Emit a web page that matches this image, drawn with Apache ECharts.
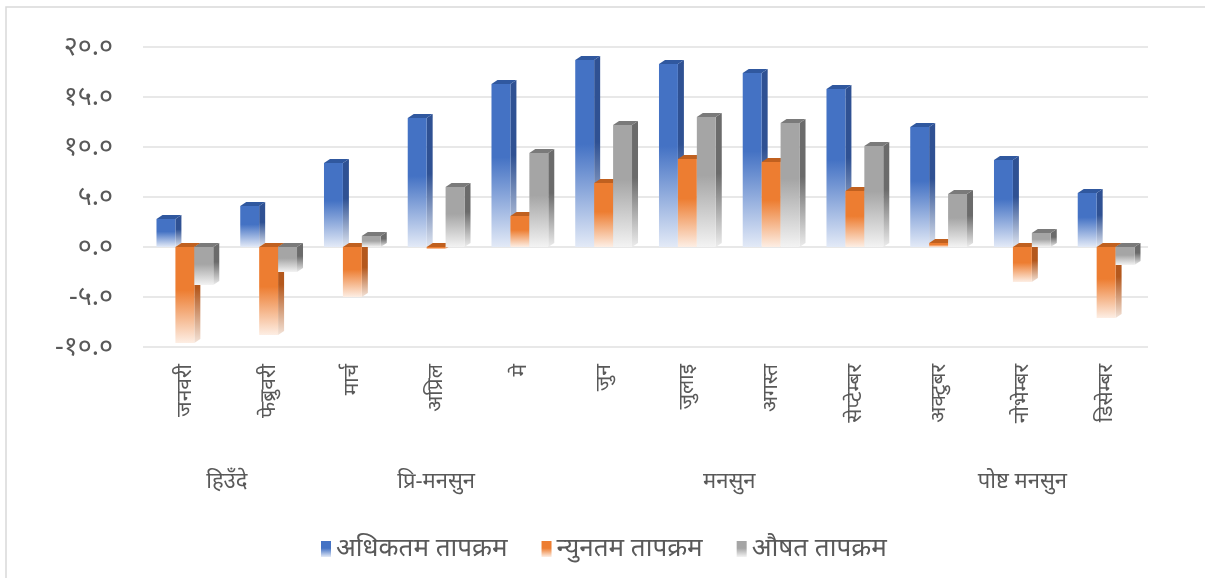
<!DOCTYPE html>
<html>
<head>
<meta charset="utf-8">
<script src="https://cdn.jsdelivr.net/npm/echarts@6/dist/echarts.min.js"></script>
<style>
  html, body { margin: 0; padding: 0; background: #fff; }
  #chart { width: 1205px; height: 578px; }
</style>
</head>
<body>
<div id="chart"></div>
<script>
const months = ["जनवरी", "फेब्रुवरी", "मार्च", "अप्रिल", "मे", "जुन", "जुलाइ", "अगस्त", "सेप्टेम्बर", "अक्टुबर", "नोभेम्बर", "डिसेम्बर"];
// season label sits at the middle of its months (half-month slots, 0..24)
const seasons = ["हिउँदे", "प्रि-मनसुन", "मनसुन", "पोष्ट मनसुन"];
const seasonSlots = [2, 7, 14, 21];
const seriesNames = ["अधिकतम तापक्रम", "न्युनतम तापक्रम", "औषत तापक्रम"];
const maxTemp = [2.8, 4.1, 8.4, 12.9, 16.3, 18.7, 18.3, 17.4, 15.8, 12.0, 8.7, 5.4];
const minTemp = [-9.6, -8.8, -5.0, -0.2, 3.1, 6.4, 8.8, 8.5, 5.6, 0.4, -3.5, -7.1];
const avgTemp = [-3.8, -2.5, 1.1, 6.0, 9.4, 12.2, 13.0, 12.4, 10.1, 5.3, 1.4, -1.8];

const faces = [
  { front: "#4472C4", pale: "#e3eaf7", side: "#2F5193", sidePale: "#dfe5f0", top: "#30589f" },
  { front: "#ED7D31", pale: "#fdeee4", side: "#B4581D", sidePale: "#f3e3d8", top: "#c0601f" },
  { front: "#A5A5A5", pale: "#f3f3f3", side: "#6B6B6B", sidePale: "#ececec", top: "#7a7a7a" }
];

const devDigits = "०१२३४५६७८९";
function toDev(s) {
  return String(s).replace(/[0-9]/g, d => devDigits[+d]);
}

function grad(c1, c2) {
  return {
    type: "linear", x: 0, y: 0, x2: 0, y2: 1,
    colorStops: [
      { offset: 0, color: c1 },
      { offset: 0.45, color: c1 },
      { offset: 1, color: c2 }
    ]
  };
}

function makeRender(k) {
  const f = faces[k];
  return function (params, api) {
    const idx = api.value(0);
    const p = api.coord([idx, api.value(1)]);
    const z = api.coord([idx, 0]);
    const band = api.size([1, 0])[0];
    const w = band * 0.226;
    const x = p[0] + (k - 1) * w - w / 2;
    const yTop = Math.min(p[1], z[1]);
    const yBot = Math.max(Math.max(p[1], z[1]), yTop + 1.5);
    const dx = 6, dy = 4;
    return {
      type: "group",
      children: [
        {
          type: "polygon",
          shape: { points: [[x + w, yTop], [x + w + dx, yTop - dy], [x + w + dx, yBot - dy], [x + w, yBot]] },
          style: { fill: grad(f.side, f.sidePale) }
        },
        {
          type: "rect",
          shape: { x: x, y: yTop, width: w, height: yBot - yTop },
          style: { fill: grad(f.front, f.pale) }
        },
        {
          type: "polygon",
          shape: { points: [[x, yTop], [x + dx, yTop - dy], [x + w + dx, yTop - dy], [x + w, yTop]] },
          style: { fill: f.top }
        }
      ]
    };
  };
}

const chart = echarts.init(document.getElementById("chart"));
const fontFam = "'Noto Sans', sans-serif";
const values = [maxTemp, minTemp, avgTemp];

const option = {
  backgroundColor: "#fff",
  animation: false,
  textStyle: { fontFamily: fontFam },
  graphic: [{
    type: "rect",
    shape: { x: 6, y: 7, width: 1210, height: 590 },
    style: { fill: "none", stroke: "#d9d9d9", lineWidth: 1.5 },
    silent: true
  }],
  grid: { left: 143, right: 57, top: 47, bottom: 231 },
  legend: {
    top: 531,
    left: 316,
    itemWidth: 10,
    itemHeight: 16,
    itemGap: 34,
    icon: "rect",
    textStyle: { color: "#595959", fontSize: 26, fontFamily: fontFam },
    data: seriesNames
  },
  xAxis: [
    {
      type: "category",
      data: months,
      axisLine: { show: false },
      axisTick: { show: false },
      axisLabel: { rotate: 90, color: "#595959", fontSize: 21, margin: 17, interval: 0 }
    },
    {
      type: "category",
      position: "bottom",
      offset: 116,
      boundaryGap: false,
      data: Array.from({ length: 25 }, (_, i) => {
        const s = seasonSlots.indexOf(i);
        return s >= 0 ? seasons[s] : "";
      }),
      axisLine: { show: false },
      axisTick: { show: false },
      axisLabel: { interval: 0, color: "#595959", fontSize: 22, margin: 8 }
    }
  ],
  yAxis: {
    type: "value",
    min: -10,
    max: 20,
    interval: 5,
    axisLine: { show: false },
    axisTick: { show: false },
    axisLabel: {
      color: "#595959",
      fontSize: 27,
      margin: 30,
      formatter: v => toDev(v.toFixed(1))
    },
    splitLine: { lineStyle: { color: "#e8e8e8", width: 2 } }
  },
  series: seriesNames.map((name, k) => ({
    name: name,
    type: "custom",
    xAxisIndex: 0,
    renderItem: makeRender(k),
    itemStyle: { color: grad(faces[k].front, faces[k].pale) },
    encode: { x: 0, y: 1 },
    data: values[k].map((v, i) => [i, v]),
    z: 2 + k
  }))
};
chart.setOption(option);
</script>
</body>
</html>
